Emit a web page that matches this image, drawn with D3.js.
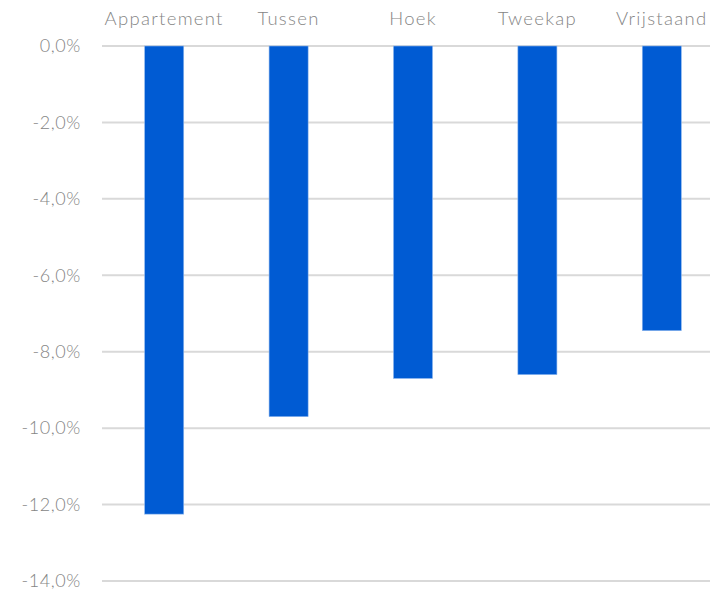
<!DOCTYPE html>
<html><head><meta charset="utf-8">
<script src="https://cdn.jsdelivr.net/npm/d3@7"></script>
<style>body{margin:0;background:#fff}svg{display:block}text{font-family:Lato,"Open Sans",sans-serif;fill:#858585;font-weight:300}</style>
</head><body><svg id="c" width="710" height="590"></svg>
<script>
const categories = ["Appartement","Tussen","Hoek","Tweekap","Vrijstaand"];
const values = [-12.25, -9.7, -8.7, -8.6, -7.45];
const yTicks = [0,-2,-4,-6,-8,-10,-12,-14];

const svg = d3.select("#c");
const x = d3.scaleBand().domain(categories).range([102, 724]).padding(0);
const y = d3.scaleLinear().domain([0, -14]).range([46, 581]);
const fmt = v => v.toFixed(1).replace(".", ",") + "%";

// gridlines
svg.append("g").selectAll("line").data(yTicks).join("line")
  .attr("x1", 102).attr("x2", 724)
  .attr("y1", d => y(d)).attr("y2", d => y(d))
  .attr("stroke", "#d9d9d9").attr("stroke-width", 2);

// y labels
svg.append("g").selectAll("text").data(yTicks).join("text")
  .attr("x", 81).attr("y", d => y(d)).attr("dy", "0.35em")
  .attr("text-anchor", "end").attr("font-size", 18).attr("letter-spacing", 0.6)
  .text(fmt);

// bars
const bw = x.bandwidth() * 0.314;
svg.append("g").selectAll("rect").data(values).join("rect")
  .attr("x", (d, i) => x(categories[i]) + x.bandwidth() / 2 - bw / 2)
  .attr("width", bw)
  .attr("y", d => y(0))
  .attr("height", d => y(d) - y(0))
  .attr("fill", "#005bd3")
  .attr("stroke", "#8fb8ee").attr("stroke-width", 0.6);

// category labels
svg.append("g").selectAll("text").data(categories).join("text")
  .attr("x", d => x(d) + x.bandwidth() / 2).attr("y", 25)
  .attr("text-anchor", "middle").attr("font-size", 18.5).attr("letter-spacing", 1.3)
  .text(d => d);
</script></body></html>
